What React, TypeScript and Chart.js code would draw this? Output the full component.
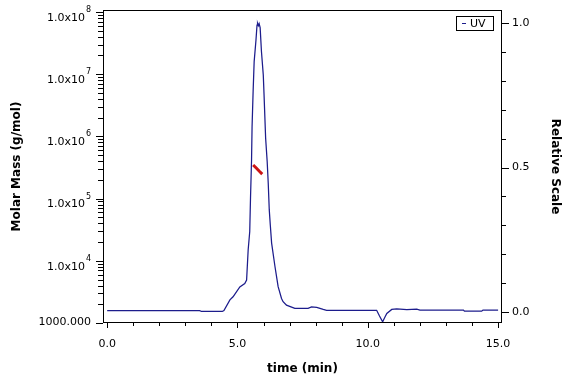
import React, { useEffect, useRef } from "react";
import { Chart, registerables } from "chart.js";

Chart.register(...registerables);

// UV trace (relative scale) against elution time in minutes
const uvTime = [
  0, 3.55, 3.62, 4.42, 4.48, 4.71, 4.83, 5.09, 5.28, 5.35, 5.41, 5.47, 5.5, 5.54,
  5.56, 5.6, 5.64, 5.71, 5.75, 5.77, 5.8, 5.83, 5.87, 5.92, 5.99, 6.02, 6.08, 6.14,
  6.18, 6.22, 6.26, 6.31, 6.44, 6.56, 6.69, 6.75, 6.88, 7.2, 7.71, 7.84, 8.04, 8.29,
  8.42, 10.34, 10.45, 10.57, 10.65, 10.73, 10.92, 11.11, 11.5, 11.88, 12.0, 13.67,
  13.71, 14.37, 14.42, 15.0,
];
const uvRelative = [
  0.004, 0.004, 0.001, 0.001, 0.004, 0.041, 0.052, 0.086, 0.098, 0.11, 0.214, 0.277,
  0.394, 0.526, 0.641, 0.763, 0.867, 0.942, 0.994, 1.0, 0.992, 0.999, 0.985, 0.902,
  0.821, 0.751, 0.602, 0.52, 0.446, 0.353, 0.3, 0.238, 0.156, 0.087, 0.046, 0.035,
  0.023, 0.012, 0.012, 0.017, 0.015, 0.008, 0.005, 0.005, -0.015, -0.035, -0.02,
  -0.006, 0.008, 0.01, 0.007, 0.009, 0.006, 0.006, 0.002, 0.002, 0.006, 0.006,
];

// Molar mass across the main peak (g/mol)
const massTime = [5.6, 5.72, 5.84, 5.95];
const molarMass = [3.47e5, 3.1e5, 2.75e5, 2.48e5];

// Axis ticks
const timeTicks = [0, 5, 10, 15];
const relTicks = [0, 0.5, 1.0];
const massDecades = [3, 4, 5, 6, 7, 8];

const seriesLabel = "UV";
const FONT = '"DejaVu Sans"';

const framePlugin = {
  id: "frame",
  afterDraw(chart: any) {
    const { ctx, chartArea: a, scales } = chart;
    const sx = scales.x;
    const sy = scales.y;
    const sy2 = scales.y2;
    ctx.save();
    ctx.strokeStyle = "#000";
    ctx.fillStyle = "#000";
    ctx.lineWidth = 1;

    // plot box
    ctx.strokeRect(a.left + 0.5, a.top + 0.5, a.width - 1, a.height - 1);

    ctx.beginPath();
    // time axis ticks (every minute, longer at labels)
    for (let t = 0; t <= 15; t++) {
      const px = Math.round(sx.getPixelForValue(t)) + 0.5;
      const len = t % 5 === 0 ? 5 : 3;
      ctx.moveTo(px, a.bottom);
      ctx.lineTo(px, a.bottom + len);
    }
    // relative scale ticks
    for (let i = 0; i <= 10; i++) {
      const py = Math.round(sy2.getPixelForValue(i / 10)) + 0.5;
      const len = i % 5 === 0 ? 7 : 4;
      ctx.moveTo(a.right, py);
      ctx.lineTo(a.right + len, py);
    }
    // molar mass ticks (log decades + minor)
    for (const d of massDecades) {
      const major = Math.pow(10, d);
      const py = Math.round(sy.getPixelForValue(major)) + 0.5;
      ctx.moveTo(a.left, py);
      ctx.lineTo(a.left - 7, py);
      if (d < 8) {
        for (let k = 2; k <= 9; k++) {
          const pm = Math.round(sy.getPixelForValue(k * major)) + 0.5;
          ctx.moveTo(a.left, pm);
          ctx.lineTo(a.left - 5, pm);
        }
      }
    }
    ctx.stroke();

    // molar mass tick labels with superscript exponents
    ctx.textBaseline = "middle";
    for (const d of massDecades) {
      const py = sy.getPixelForValue(Math.pow(10, d));
      if (d === 3) {
        ctx.font = `11px ${FONT}`;
        ctx.textAlign = "right";
        ctx.fillText("1000.000", a.left - 12, py - 1);
      } else {
        ctx.font = `11px ${FONT}`;
        ctx.textAlign = "right";
        ctx.fillText("1.0x10", a.left - 18, py + 6);
        ctx.font = `8px ${FONT}`;
        ctx.textAlign = "left";
        ctx.fillText(String(d), a.left - 17, py - 2);
      }
    }

    // axis titles
    ctx.font = `bold 12px ${FONT}`;
    ctx.textAlign = "center";
    ctx.textBaseline = "middle";
    const midY = (a.top + a.bottom) / 2;
    ctx.save();
    ctx.translate(17, midY);
    ctx.rotate(-Math.PI / 2);
    ctx.fillText("Molar Mass (g/mol)", 0, 0);
    ctx.restore();
    ctx.save();
    ctx.translate(555, midY);
    ctx.rotate(Math.PI / 2);
    ctx.fillText("Relative Scale", 0, 0);
    ctx.restore();
    ctx.fillText("time (min)", (a.left + a.right) / 2, 369);

    // legend box
    const bx = a.right - 46;
    const by = a.top + 6;
    const bw = 37;
    const bh = 14;
    ctx.fillStyle = "#fff";
    ctx.fillRect(bx, by, bw, bh);
    ctx.strokeStyle = "#000";
    ctx.strokeRect(bx + 0.5, by + 0.5, bw, bh);
    ctx.strokeStyle = "#1c1c8c";
    ctx.beginPath();
    ctx.moveTo(bx + 6, by + 7.5);
    ctx.lineTo(bx + 10, by + 7.5);
    ctx.stroke();
    ctx.fillStyle = "#000";
    ctx.font = `11px ${FONT}`;
    ctx.textAlign = "left";
    ctx.fillText(seriesLabel, bx + 14, by + 8);
    ctx.restore();
  },
};

export default function App() {
  const canvasRef = useRef<HTMLCanvasElement | null>(null);

  useEffect(() => {
    if (!canvasRef.current) return;
    const chart = new Chart(canvasRef.current, {
      type: "line",
      data: {
        datasets: [
          {
            label: "Molar Mass",
            data: massTime.map((t, i) => ({ x: t, y: molarMass[i] })),
            yAxisID: "y",
            borderColor: "#cc1414",
            borderWidth: 3,
            pointRadius: 0,
            tension: 0,
          },
          {
            label: seriesLabel,
            data: uvTime.map((t, i) => ({ x: t, y: uvRelative[i] })),
            yAxisID: "y2",
            borderColor: "#1c1c8c",
            borderWidth: 1.25,
            pointRadius: 0,
            tension: 0,
          },
        ],
      },
      options: {
        responsive: false,
        animation: false,
        layout: { padding: { top: 10, left: 0, right: 0, bottom: 0 } },
        plugins: { legend: { display: false }, tooltip: { enabled: false } },
        scales: {
          x: {
            type: "linear",
            min: -0.16,
            max: 15.15,
            grid: { display: false, drawTicks: false },
            border: { display: false },
            afterBuildTicks: (s: any) => {
              s.ticks = timeTicks.map((v) => ({ value: v }));
            },
            afterFit: (s: any) => {
              s.height = 61;
              s.paddingLeft = 0;
              s.paddingRight = 0;
            },
            ticks: {
              padding: 15,
              color: "#000",
              font: { family: "DejaVu Sans", size: 11 },
              callback: (v: any) => Number(v).toFixed(1),
            },
          },
          y: {
            type: "logarithmic",
            position: "left",
            min: 1000,
            max: 1.077e8,
            grid: { display: false, drawTicks: false },
            border: { display: false },
            ticks: { display: false },
            afterFit: (s: any) => {
              s.width = 103;
              s.paddingTop = 0;
              s.paddingBottom = 0;
            },
          },
          y2: {
            type: "linear",
            position: "right",
            min: -0.039,
            max: 1.046,
            grid: { display: false, drawTicks: false },
            border: { display: false },
            afterBuildTicks: (s: any) => {
              s.ticks = relTicks.map((v) => ({ value: v }));
            },
            afterFit: (s: any) => {
              s.width = 74;
              s.paddingTop = 0;
              s.paddingBottom = 0;
            },
            ticks: {
              padding: 10,
              color: "#000",
              font: { family: "DejaVu Sans", size: 11 },
              callback: (v: any) => Number(v).toFixed(1),
            },
          },
        },
      },
      plugins: [framePlugin],
    });
    return () => chart.destroy();
  }, []);

  return (
    <div style={{ position: "fixed", left: 0, top: 0, width: 576, height: 384, background: "#fff" }}>
      <canvas ref={canvasRef} width={576} height={384} />
    </div>
  );
}
